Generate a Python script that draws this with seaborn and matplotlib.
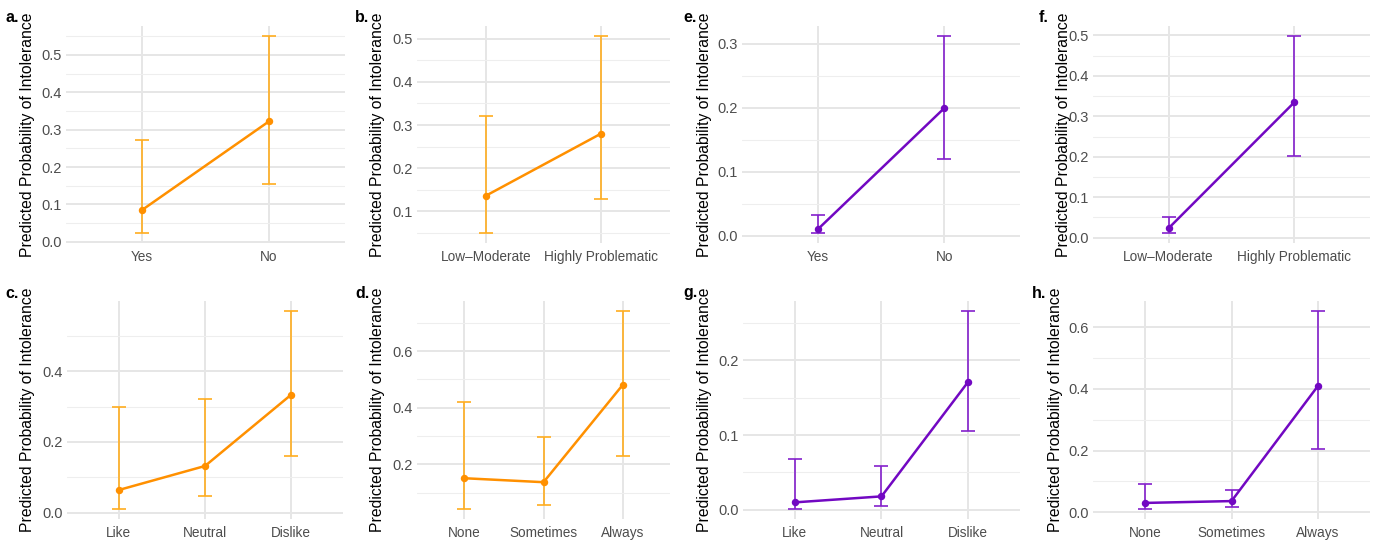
import seaborn as sns
import matplotlib.pyplot as plt
import matplotlib.ticker as ticker
from matplotlib.transforms import Bbox, TransformedBbox
import pandas as pd

# categories
yes_no = ["Yes", "No"]
severity = ["Low\u2013Moderate", "Highly Problematic"]
liking = ["Like", "Neutral", "Dislike"]
frequency = ["None", "Sometimes", "Always"]

# predicted probabilities with lower / upper CI
a_fit = [0.085, 0.322]
a_lo = [0.023, 0.155]
a_hi = [0.271, 0.551]

b_fit = [0.136, 0.280]
b_lo = [0.049, 0.128]
b_hi = [0.322, 0.507]

c_fit = [0.064, 0.132, 0.334]
c_lo = [0.010, 0.046, 0.159]
c_hi = [0.299, 0.323, 0.571]

d_fit = [0.151, 0.137, 0.480]
d_lo = [0.042, 0.056, 0.230]
d_hi = [0.421, 0.296, 0.742]

e_fit = [0.010, 0.199]
e_lo = [0.004, 0.119]
e_hi = [0.032, 0.312]

f_fit = [0.023, 0.335]
f_lo = [0.011, 0.202]
f_hi = [0.051, 0.499]

g_fit = [0.010, 0.018, 0.171]
g_lo = [0.001, 0.005, 0.105]
g_hi = [0.068, 0.058, 0.266]

h_fit = [0.030, 0.036, 0.410]
h_lo = [0.010, 0.016, 0.204]
h_hi = [0.092, 0.073, 0.653]

ORANGE_LINE = "#FF9000"
ORANGE_ERR = "#FFAD1F"
PURPLE_LINE = "#7208C2"
PURPLE_ERR = "#8420CC"

W, H = 1378, 542

# letter, cats, fit, lo, hi, colour, major step, box (left, top, right, bottom px), ylabel right edge px, letter x px
panels = [
    ("a.", yes_no, a_fit, a_lo, a_hi, "o", 0.1, (66, 26, 345, 243), 35, 5),
    ("b.", severity, b_fit, b_lo, b_hi, "o", 0.1, (417, 26, 670, 243), 385, 355),
    ("e.", yes_no, e_fit, e_lo, e_hi, "p", 0.1, (742, 26, 1020, 243), 712, 683),
    ("f.", severity, f_fit, f_lo, f_hi, "p", 0.1, (1093, 26, 1370, 243), 1071, 1039),
    ("c.", liking, c_fit, c_lo, c_hi, "o", 0.2, (67, 301, 343, 519), 35, 5),
    ("d.", frequency, d_fit, d_lo, d_hi, "o", 0.2, (417, 301, 670, 519), 385, 355),
    ("g.", liking, g_fit, g_lo, g_hi, "p", 0.1, (743, 301, 1020, 519), 712, 683),
    ("h.", frequency, h_fit, h_lo, h_hi, "p", 0.2, (1093, 301, 1370, 519), 1063, 1032),
]

sns.set_theme(style="white")
plt.rcParams['font.family'] = ['Liberation Sans', 'DejaVu Sans']

fig = plt.figure(figsize=(W / 100, H / 100), dpi=100)
fig.patch.set_facecolor("white")

for letter, cats, fit, lo, hi, col, step, box, ylab_x, let_x in panels:
    left, top, right, bottom = box
    ax = fig.add_axes([left / W, 1 - bottom / H, (right - left) / W, (bottom - top) / H])
    line_c = ORANGE_LINE if col == "o" else PURPLE_LINE
    err_c = ORANGE_ERR if col == "o" else PURPLE_ERR

    df = pd.DataFrame({"cat": cats, "fit": fit, "lo": lo, "hi": hi})
    df["cat"] = pd.Categorical(df["cat"], categories=cats)

    sns.pointplot(data=df, x="cat", y="fit", color=line_c, errorbar=None,
                  markers="o", markersize=4, linewidth=1.8, ax=ax, zorder=3)
    ax.errorbar(range(len(cats)), df["fit"],
                yerr=[df["fit"] - df["lo"], df["hi"] - df["fit"]],
                fmt="none", ecolor=err_c, elinewidth=1.2, capsize=4.8,
                capthick=1.2, zorder=2)

    # ggplot-style expansion
    ymin, ymax = min(lo), max(hi)
    pad = (ymax - ymin) * 0.05
    ax.set_ylim(ymin - pad, ymax + pad)
    ax.set_xlim(-0.6, len(cats) - 1 + 0.6)

    ax.yaxis.set_major_locator(ticker.MultipleLocator(step))
    ax.yaxis.set_minor_locator(ticker.AutoMinorLocator(2))
    ax.yaxis.set_major_formatter(ticker.FormatStrFormatter("%.1f"))

    ax.grid(True, which="major", axis="both", color="#E6E6E6", linewidth=1.4)
    ax.grid(True, which="minor", axis="y", color="#EEEEEE", linewidth=0.8)
    ax.set_axisbelow(True)
    for s in ax.spines.values():
        s.set_visible(False)
    ax.tick_params(axis="both", which="both", length=0, colors="#4D4D4D", pad=3)
    ax.tick_params(axis="x", labelsize=9.8, pad=5)
    ax.tick_params(axis="y", labelsize=10.5)

    ax.set_xlabel("")
    ax.set_ylabel("Predicted Probability of Intolerance", fontsize=11.3, color="black")
    ax.yaxis.set_label_coords(ylab_x / W, 1 - ((top + bottom) / 2) / H,
                              transform=fig.transFigure)

    # clip tick labels at the panel edge (like the reference)
    clip = TransformedBbox(Bbox.from_extents(0, 0, (right + 1) / W, 1), fig.transFigure)
    for lab in ax.get_xticklabels():
        lab.set_clip_on(True)
        lab.set_clip_box(clip)

    fig.text(let_x / W, 1 - (top - 8) / H, letter, fontsize=11.5, fontweight="bold",
             color="black", ha="left", va="center")

plt.savefig("out.png", dpi=100, facecolor="white")
